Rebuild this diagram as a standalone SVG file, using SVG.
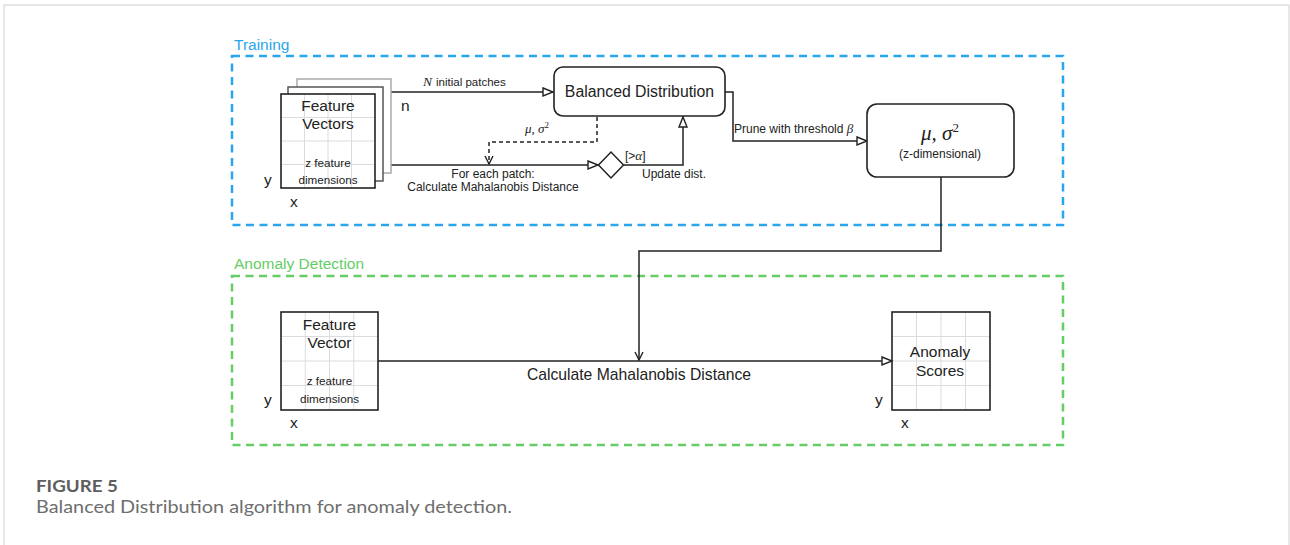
<svg xmlns="http://www.w3.org/2000/svg" width="1290" height="545" viewBox="0 0 1290 545">
<defs>
<style>
.lbl{font-family:"Liberation Sans",Arial,sans-serif;fill:#222}
.mth{font-family:"Liberation Serif","Times New Roman",serif;font-style:italic;fill:#222}
.box{fill:#fff;stroke:#222;stroke-width:1.6}
.grid{stroke:#dcdcdc;stroke-width:1}
.ln{fill:none;stroke:#222;stroke-width:1.5}
.cap{font-family:Lato,"Open Sans",sans-serif}
</style>
<marker id="tri" markerUnits="userSpaceOnUse" markerWidth="13" markerHeight="11" refX="11" refY="5" orient="auto" viewBox="0 0 13 11">
<path d="M1,1 L11,5 L1,9 Z" fill="#fff" stroke="#222" stroke-width="1.4"/>
</marker>
<marker id="chev" markerUnits="userSpaceOnUse" markerWidth="12" markerHeight="12" refX="9" refY="5" orient="auto" viewBox="0 0 12 12">
<path d="M1,1 L9,5 L1,9" fill="none" stroke="#222" stroke-width="1.4"/>
</marker>
</defs>
<rect x="0" y="0" width="1290" height="545" fill="#fff"/>
<rect x="4" y="5" width="1285" height="560" fill="none" stroke="#cfcfcf" stroke-width="1"/>

<g id="training-group">
<rect x="232" y="56" width="831" height="169" fill="none" stroke="#2aa6ee" stroke-width="2.5" stroke-dasharray="8 5.5"/>
<text x="234" y="50" font-family="Liberation Sans,Arial,sans-serif" font-size="15.5" fill="#2aa6ee">Training</text>
</g>
<g id="anomaly-group">
<rect x="232" y="276" width="831" height="169" fill="none" stroke="#66cc66" stroke-width="2.5" stroke-dasharray="8 5.5"/>
<text x="234" y="269" font-family="Liberation Sans,Arial,sans-serif" font-size="15.5" fill="#66cc66">Anomaly Detection</text>
</g>

<g id="connectors">
<path class="ln" d="M391,92 L553,92" marker-end="url(#tri)"/>
<path class="ln" d="M391,165 L598,165" marker-end="url(#tri)"/>
<path class="ln" d="M597,117 L597,142 L489,142 L489,164" stroke-dasharray="4 3" marker-end="url(#chev)"/>
<path class="ln" d="M623.5,165 L683,165 L683,117" marker-end="url(#tri)"/>
<path class="ln" d="M725,92 L733,92 L733,141 L867,141" marker-end="url(#tri)"/>
<path class="ln" d="M941,177 L941,251 L639,251 L639,360" marker-end="url(#chev)"/>
<path class="ln" d="M378,361 L892,361" marker-end="url(#tri)"/>
<text class="mth" x="423" y="86" font-size="13.5">N</text>
<text class="lbl" x="436" y="86" font-size="11.5">initial patches</text>
<text class="mth" x="525" y="133" font-size="13">μ, σ<tspan dy="-5" font-size="9" font-style="normal">2</tspan></text>
<text class="lbl" x="493" y="178" font-size="12" text-anchor="middle">For each patch:</text>
<text class="lbl" x="493" y="191" font-size="12" text-anchor="middle">Calculate Mahalanobis Distance</text>
<text class="lbl" x="625" y="160" font-size="12">[&gt;<tspan class="mth" font-size="13">α</tspan>]</text>
<text class="lbl" x="642" y="178" font-size="12">Update dist.</text>
<text class="lbl" x="734" y="133" font-size="12">Prune with threshold <tspan class="mth" font-size="13">β</tspan></text>
<text class="lbl" x="639" y="380" font-size="15.7" text-anchor="middle">Calculate Mahalanobis Distance</text>
</g>

<g id="feature-vectors">
<rect x="297" y="79" width="94" height="94" fill="#fff" stroke="#aaa" stroke-width="1.5"/>
<rect x="288" y="87" width="95" height="94" fill="#fff" stroke="#555" stroke-width="1.5"/>
<rect x="281" y="94" width="94" height="94" fill="#fff" stroke="none"/>
<path class="grid" d="M304.5,94V188M328,94V188M351.5,94V188M281,117.5H375M281,141H375M281,164.5H375"/>
<rect x="281" y="94" width="94" height="94" fill="none" stroke="#222" stroke-width="1.6"/>
<text class="lbl" x="328" y="111" font-size="15.5" text-anchor="middle">Feature</text>
<text class="lbl" x="328" y="129" font-size="15.5" text-anchor="middle">Vectors</text>
<text class="lbl" x="328" y="167" font-size="11.7" text-anchor="middle">z feature</text>
<text class="lbl" x="328" y="184" font-size="11.7" text-anchor="middle">dimensions</text>
<text class="lbl" x="264" y="185" font-size="15.5">y</text>
<text class="lbl" x="290" y="207" font-size="15.5">x</text>
<text class="lbl" x="401" y="111" font-size="15.5">n</text>
</g>

<g id="balanced-distribution">
<rect class="box" x="554" y="67" width="171" height="49" rx="9"/>
<text class="lbl" x="639.5" y="97" font-size="15.8" text-anchor="middle">Balanced Distribution</text>
</g>

<g id="decision">
<path d="M598.5,165 L611,152 L623.5,165 L611,178 Z" fill="#fff" stroke="#222" stroke-width="1.5"/>
</g>

<g id="mu-sigma">
<rect class="box" x="867" y="104" width="147" height="73" rx="10"/>
<text class="mth" x="940" y="140" font-size="21" text-anchor="middle">μ, σ<tspan dy="-8" font-size="13" font-style="normal">2</tspan></text>
<text class="lbl" x="940" y="158" font-size="12" text-anchor="middle">(z-dimensional)</text>
</g>

<g id="feature-vector">
<path class="grid" d="M305.25,312V410M329.5,312V410M353.75,312V410M281,336.5H378M281,361H378M281,385.5H378"/>
<rect x="281" y="312" width="97" height="98" fill="none" stroke="#222" stroke-width="1.6"/>
<text class="lbl" x="329.5" y="330" font-size="15.5" text-anchor="middle">Feature</text>
<text class="lbl" x="329.5" y="348" font-size="15.5" text-anchor="middle">Vector</text>
<text class="lbl" x="329.5" y="385" font-size="11.7" text-anchor="middle">z feature</text>
<text class="lbl" x="329.5" y="403" font-size="11.7" text-anchor="middle">dimensions</text>
<text class="lbl" x="264" y="405" font-size="15.5">y</text>
<text class="lbl" x="290" y="428" font-size="15.5">x</text>
</g>

<g id="anomaly-scores">
<path class="grid" d="M916.5,312V410M941,312V410M965.5,312V410M892,336.5H990M892,361H990M892,385.5H990"/>
<rect x="892" y="312" width="98" height="98" fill="none" stroke="#222" stroke-width="1.6"/>
<text class="lbl" x="940" y="357" font-size="15.5" text-anchor="middle">Anomaly</text>
<text class="lbl" x="940" y="376" font-size="15.5" text-anchor="middle">Scores</text>
<text class="lbl" x="875" y="405" font-size="15.5">y</text>
<text class="lbl" x="901" y="428" font-size="15.5">x</text>
</g>

<g id="caption">
<text class="cap" x="36" y="492" font-size="17.5" font-weight="bold" fill="#5e5e5e" textLength="82" lengthAdjust="spacingAndGlyphs">FIGURE 5</text>
<text class="cap" x="36" y="513" font-size="17" fill="#6e6e6e" textLength="476" lengthAdjust="spacingAndGlyphs">Balanced Distribution algorithm for anomaly detection.</text>
</g>
</svg>
